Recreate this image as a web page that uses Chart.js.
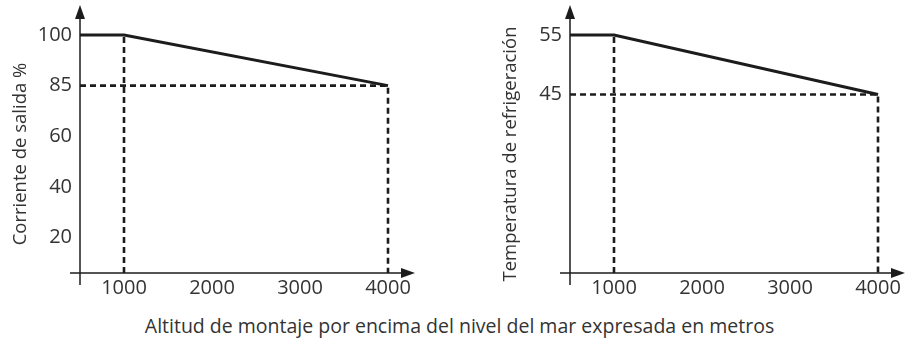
<!DOCTYPE html>
<html>
<head>
<meta charset="utf-8">
<script src="https://cdn.jsdelivr.net/npm/chart.js@4.4.1/dist/chart.umd.min.js"></script>
<style>
  body { margin: 0; background: #fff; width: 919px; height: 349px; overflow: hidden; position: relative; }
  .box { position: absolute; top: 0; }
  #caption {
    position: absolute; left: 0; top: 312px; width: 919px; text-align: center;
    font-family: 'Open Sans', sans-serif; font-size: 19.5px; color: #333;
  }
</style>
</head>
<body>
<div class="box" style="left:0"><canvas id="currentChart" width="460" height="300"></canvas></div>
<div class="box" style="left:490px"><canvas id="tempChart" width="429" height="300"></canvas></div>
<div id="caption">Altitud de montaje por encima del nivel del mar expresada en metros</div>

<script>
// derating curves
const altitudes = [500, 1000, 4000];
const currentPct = [100, 100, 85];
const coolingTemp = [55, 55, 45];

const altitudeTicks = [1000, 2000, 3000, 4000];
const currentTicks = [20, 40, 60, 85, 100];
const tempTicks = [45, 55];

const ink = '#1c1c1c';
Chart.defaults.font.family = "'Open Sans', sans-serif";
Chart.defaults.font.size = 20;
Chart.defaults.color = '#333';

// the current axis is a sketch: every tick gets the same spacing
class SlotScale extends Chart.LinearScale {
    slot(v) {
        const s = currentTicks;
        let i = 0;
        while (i < s.length - 2 && v > s[i + 1]) i++;
        return i + (v - s[i]) / (s[i + 1] - s[i]);
    }
    getPixelForValue(v) {
        if (v === null || v === undefined || isNaN(v)) return NaN;
        const a = this.slot(this.min), b = this.slot(this.max);
        return this.getPixelForDecimal((this.slot(v) - a) / (b - a));
    }
}
SlotScale.id = 'slot';
SlotScale.defaults = Chart.LinearScale.defaults;
Chart.register(SlotScale);

// arrowed axes crossing at the plot corner
const arrowAxes = {
    id: 'arrowAxes',
    afterDraw(chart) {
        const { ctx, chartArea: a } = chart;
        ctx.save();
        ctx.strokeStyle = ink;
        ctx.fillStyle = ink;
        ctx.lineWidth = 1.5;
        ctx.beginPath();
        ctx.moveTo(a.left, a.bottom + 12);
        ctx.lineTo(a.left, a.top - 18);
        ctx.moveTo(a.left - 10, a.bottom);
        ctx.lineTo(a.right + 14, a.bottom);
        ctx.stroke();
        ctx.beginPath();
        ctx.moveTo(a.left, a.top - 30);
        ctx.lineTo(a.left - 5, a.top - 16);
        ctx.lineTo(a.left + 5, a.top - 16);
        ctx.closePath();
        ctx.fill();
        ctx.beginPath();
        ctx.moveTo(a.right + 27, a.bottom);
        ctx.lineTo(a.right + 13, a.bottom - 5);
        ctx.lineTo(a.right + 13, a.bottom + 5);
        ctx.closePath();
        ctx.fill();
        ctx.restore();
    }
};

function guideLines(values, base) {
    return [
        { x: altitudes[1], y: base },
        { x: altitudes[1], y: values[1] },
        { x: altitudes[1], y: null },
        { x: altitudes[0], y: values[2] },
        { x: altitudes[2], y: values[2] },
        { x: altitudes[2], y: base }
    ];
}

function makeChart(id, values, yScale, title, padRight) {
    return new Chart(document.getElementById(id), {
        type: 'line',
        data: {
            datasets: [{
                data: altitudes.map((x, i) => ({ x: x, y: values[i] })),
                borderColor: ink,
                borderWidth: 3,
                pointRadius: 0,
                clip: false
            }, {
                data: guideLines(values, yScale.min),
                borderColor: ink,
                borderWidth: 2.6,
                borderDash: [6, 4],
                pointRadius: 0,
                spanGaps: false,
                clip: false
            }]
        },
        options: {
            responsive: false,
            animation: false,
            devicePixelRatio: 1,
            layout: { padding: { top: 35, right: padRight, left: 0, bottom: 0 } },
            plugins: { legend: { display: false }, tooltip: { enabled: false } },
            scales: {
                x: {
                    type: 'linear',
                    min: 500,
                    max: 4000,
                    grid: { display: false, drawTicks: false },
                    border: { display: false },
                    ticks: { padding: 3, callback: v => String(v) },
                    afterBuildTicks: s => { s.ticks = altitudeTicks.map(v => ({ value: v })); },
                    afterFit: s => { s.height = 27; }
                },
                y: Object.assign({
                    grid: { display: false, drawTicks: false },
                    border: { display: false },
                    ticks: { padding: 8, callback: v => String(v) },
                    title: { display: true, text: title, font: { size: 18.5 }, padding: { top: 10, bottom: 0 } },
                    afterFit: s => { s.width = 80; }
                }, yScale)
            }
        },
        plugins: [arrowAxes]
    });
}

makeChart('currentChart', currentPct, {
    type: 'slot', min: 6, max: 100,
    afterBuildTicks: s => { s.ticks = currentTicks.map(v => ({ value: v })); }
}, 'Corriente de salida %', 72);

makeChart('tempChart', coolingTemp, {
    type: 'linear', min: 15, max: 55,
    afterBuildTicks: s => { s.ticks = tempTicks.map(v => ({ value: v })); }
}, 'Temperatura de refrigeración', 41);
</script>
</body>
</html>
